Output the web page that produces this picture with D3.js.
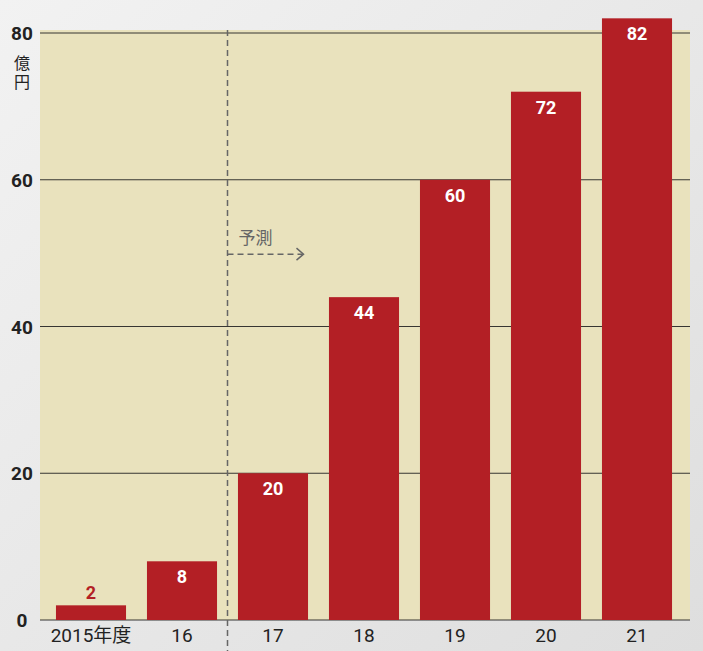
<!DOCTYPE html>
<html><head><meta charset="utf-8">
<script src="https://cdn.jsdelivr.net/npm/d3@7"></script>
<style>body{margin:0;background:#ececec}</style></head>
<body><svg id="c" width="703" height="651"></svg>
<script>
const categories = ["2015年度","16","17","18","19","20","21"];
const values = [2, 8, 20, 44, 60, 72, 82];
const yTicks = [0, 20, 40, 60, 80];

const svg = d3.select("#c");
const defs = svg.append("defs");
const g = defs.append("linearGradient").attr("id","bg").attr("x1",0).attr("y1",0).attr("x2",1).attr("y2",1);
g.append("stop").attr("offset",0).attr("stop-color","#f2f2f2");
g.append("stop").attr("offset",1).attr("stop-color","#dedede");
svg.append("rect").attr("width",703).attr("height",651).attr("fill","url(#bg)");

const x = d3.scaleBand().domain(categories).range([45.5, 682.5]).paddingInner(0.23).paddingOuter(0.115);
const y = d3.scaleLinear().domain([0, 80]).range([620, 33]);

svg.append("rect").attr("x",40).attr("y",y(80)-3).attr("width",650).attr("height",y(0)-y(80)+3).attr("fill","#e9e2bd");

svg.append("g").selectAll("line").data(yTicks).join("line")
  .attr("x1",40).attr("x2",690).attr("y1",d=>y(d)).attr("y2",d=>y(d))
  .attr("stroke","#222").attr("stroke-width",0.9);

svg.append("g").selectAll("text").data(yTicks).join("text")
  .attr("x",22).attr("y",d=>y(d)+7).attr("text-anchor","middle")
  .attr("font-family","Roboto, 'Noto Sans CJK JP'").attr("font-weight","bold").attr("font-size",19).attr("fill","#222")
  .text(d=>d);
["億","円"].forEach((t,i)=>svg.append("text").attr("x",22).attr("y",y(80)+36+i*19).attr("text-anchor","middle")
  .attr("font-family","'Noto Sans CJK JP'").attr("font-size",16).attr("fill","#222").text(t));

svg.append("g").selectAll("rect").data(values).join("rect")
  .attr("x",(d,i)=>x(categories[i])).attr("width",x.bandwidth())
  .attr("y",d=>y(d)).attr("height",d=>y(0)-y(d)).attr("fill","#b31f25");

svg.append("g").selectAll("text").data(values).join("text")
  .attr("x",(d,i)=>x(categories[i])+x.bandwidth()/2)
  .attr("y",d=> d<5 ? y(d)-6 : y(d)+22)
  .attr("text-anchor","middle").attr("font-family","Roboto").attr("font-weight","bold").attr("font-size",18)
  .attr("fill",d=> d<5 ? "#b31f25" : "#fff").text(d=>d);

svg.append("g").selectAll("text").data(categories).join("text")
  .attr("x",d=>x(d)+x.bandwidth()/2).attr("y",642).attr("text-anchor","middle")
  .attr("font-family","Roboto, 'Noto Sans CJK JP'").attr("font-size",19).attr("fill","#222").text(d=>d);

const dx = (x("16")+x.bandwidth()+x("17"))/2;
svg.append("line").attr("x1",dx).attr("x2",dx).attr("y1",y(80)-3).attr("y2",651)
  .attr("stroke","#666").attr("stroke-width",1.5).attr("stroke-dasharray","6,4");
svg.append("text").attr("x",dx+11).attr("y",y(50)-9).attr("font-family","'Noto Sans CJK JP'").attr("font-size",17).attr("fill","#666").text("予測");
svg.append("line").attr("x1",dx).attr("x2",dx+75).attr("y1",y(50)+1).attr("y2",y(50)+1)
  .attr("stroke","#666").attr("stroke-width",1.5).attr("stroke-dasharray","6,4");
svg.append("path").attr("d",`M${dx+69},${y(50)-5} L${dx+76},${y(50)+1} L${dx+69},${y(50)+7}`)
  .attr("fill","none").attr("stroke","#666").attr("stroke-width",1.5);
</script></body></html>
